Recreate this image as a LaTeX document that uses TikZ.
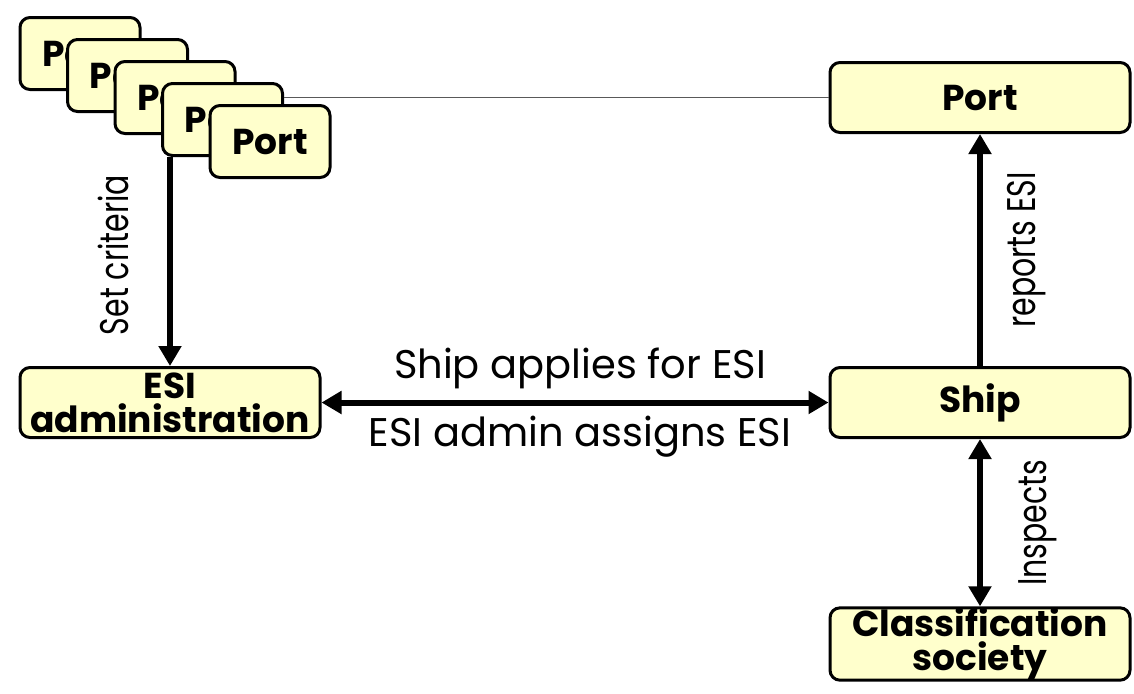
\documentclass[tikz,border=0pt]{standalone}
\usepackage{fontspec}
\setmainfont{Poppins}
\usetikzlibrary{arrows.meta}

\begin{document}
\begin{tikzpicture}[x=0.5pt,y=-0.5pt]
        \tikzstyle{every node}+=[inner sep=0pt]
        \tikzstyle{box}=[draw=black, line width=1.5pt, fill={rgb,255:red,255;green,255;blue,204}, rounded corners=5pt, align=center, font=\fontsize{18}{17}\selectfont\bfseries]
        \tikzstyle{bigbox}=[box, minimum width=150pt, minimum height=35pt]
        \tikzstyle{smallbox}=[box, minimum width=60pt, minimum height=36pt]
        \tikzstyle{flow}=[line width=3pt, -{Triangle[length=10pt,width=11pt]}]
        \tikzstyle{flowboth}=[line width=3pt, {Triangle[length=10pt,width=11pt]}-{Triangle[length=10pt,width=11pt]}]
        \tikzstyle{lbl}=[font=\fontsize{20}{21}\selectfont]
        \useasboundingbox (0,0) rectangle (1134,693);
        % stack of ports
        \foreach \i in {1,...,5}
            \node[smallbox] (port\i) at ({80+(\i-1)*47.5},{53.5+(\i-1)*22}) {Port};
        \node[bigbox] (port) at (980,97.5) {Port};
        \node[bigbox] (esi) at (170,402.5) {ESI\\administration};
        \node[bigbox] (ship) at (980,402.5) {Ship};
        \node[bigbox] (class) at (980,644) {Classification\\society};
        % links
        \draw[gray!70!black, line width=0.7pt] (port.west) -- (port.west -| port4.east);
        \draw[flow] (esi.north |- port4.south) -- (esi.north);
        \draw[flow] (ship.north) -- (port.south);
        \draw[flowboth] (esi.east) -- (ship.west);
        \draw[flowboth] (ship.south) -- (class.north);
        % labels
        \node[lbl] (apply) at (580,368) {Ship applies for ESI};
        \node[lbl] (assign) at (580,437) {ESI admin assigns ESI};
        \node[lbl, rotate=90] (crit) at (113,255) {\scalebox{0.75}[1]{Set criteria}};
        \node[lbl, rotate=90] (report) at (1027,250) {\scalebox{0.75}[1]{reports ESI}};
        \node[lbl, rotate=90] (insp) at (1038,523) {\scalebox{0.75}[1]{Inspects}};
\end{tikzpicture}
\end{document}
